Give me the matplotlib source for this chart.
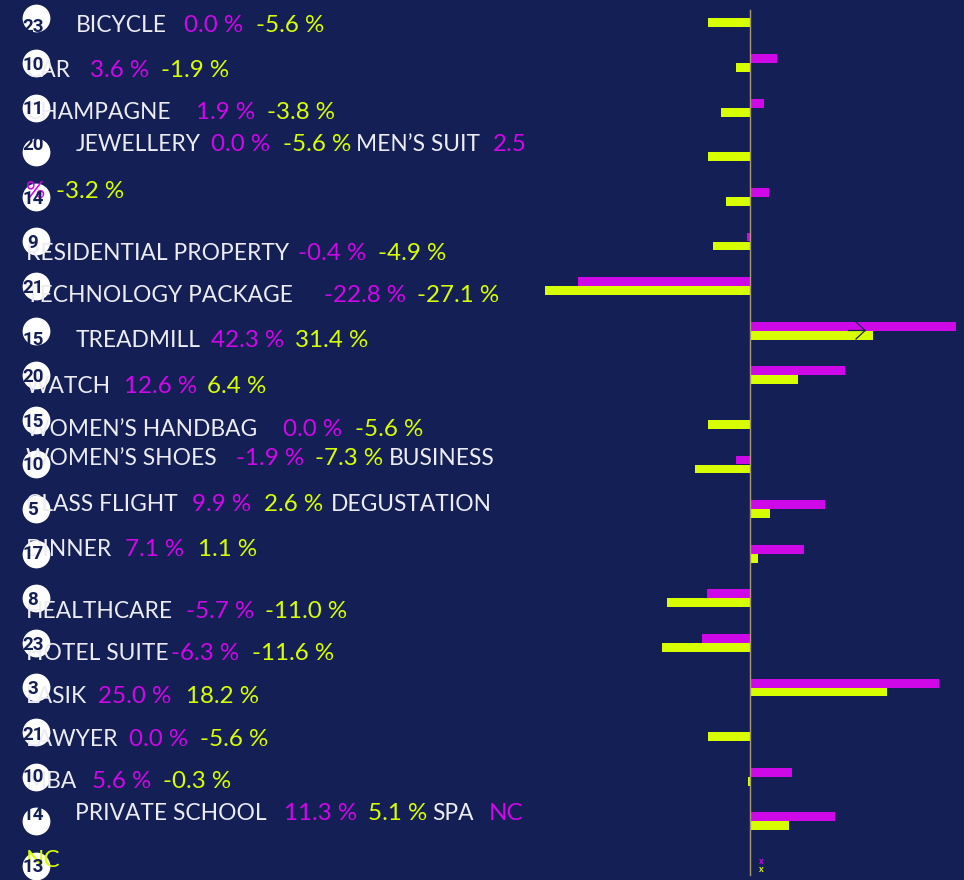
import matplotlib
matplotlib.use("Agg")
import matplotlib.pyplot as plt
import numpy as np

BG = "#141F55"
PURPLE = "#CF08E8"
YELLOW = "#D8FF00"
WHITE = "#ECECF2"
AXIS = "#A89C6A"
FONT = ["Lato", "DejaVu Sans"]

categories = ["BICYCLE", "CAR", "CHAMPAGNE", "JEWELLERY", "MEN'S SUIT", "RESIDENTIAL PROPERTY",
              "TECHNOLOGY PACKAGE", "TREADMILL", "WATCH", "WOMEN'S HANDBAG", "WOMEN'S SHOES",
              "BUSINESS CLASS FLIGHT", "DEGUSTATION DINNER", "HEALTHCARE", "HOTEL SUITE", "LASIK",
              "LAWYER", "MBA", "PRIVATE SCHOOL", "SPA"]
# Bar lengths as drawn; the treadmill bars are cut short in the picture (labels say 42.3 and 31.4)
purple_values = [0.0, 3.6, 1.9, 0.0, 2.5, -0.4, -22.8, 27.3, 12.6, 0.0, -1.9, 9.9, 7.1, -5.7, -6.3,
                 25.0, 0.0, 5.6, 11.3, 0.0]
yellow_values = [-5.6, -1.9, -3.8, -5.6, -3.2, -4.9, -27.1, 16.3, 6.4, -5.6, -7.3, 2.6, 1.1, -11.0,
                 -11.6, 18.2, -5.6, -0.3, 5.1, 0.0]
badges = [23, 10, 11, 20, 14, 9, 21, 15, 20, 15, 10, 5, 17, 8, 23, 3, 21, 10, 14, 13]
badge_y = [27, 65, 109, 145, 199, 243, 288, 340, 377, 422, 465, 510, 554, 600, 645, 689, 735, 777, 815, 867]

W, H = 964, 880
ZERO_PX, PX_PER_UNIT = 750.0, 7.55
ROW0_PX, ROW_PX = 18.5, 44.6
X_SCALE = 1.033

# Wrapped label lines: baseline y, then (x, text, colour)
text_lines = [
    (32, [(73, "BICYCLE", WHITE), (178, "0.0 %", PURPLE), (248, "-5.6 %", YELLOW)]),
    (77, [(25, "CAR", WHITE), (87, "3.6 %", PURPLE), (156, "-1.9 %", YELLOW)]),
    (119, [(25, "CHAMPAGNE", WHITE), (190, "1.9 %", PURPLE), (258, "-3.8 %", YELLOW)]),
    (151, [(73, "JEWELLERY", WHITE), (204, "0.0 %", PURPLE), (274, "-5.6 %", YELLOW),
           (345, "MEN\u2019S SUIT", WHITE), (477, "2.5", PURPLE)]),
    (198, [(25, "%", PURPLE), (54, "-3.2 %", YELLOW)]),
    (260, [(25, "RESIDENTIAL PROPERTY", WHITE), (288, "-0.4 %", PURPLE), (366, "-4.9 %", YELLOW)]),
    (302, [(25, "TECHNOLOGY PACKAGE", WHITE), (314, "-22.8 %", PURPLE), (404, "-27.1 %", YELLOW)]),
    (347, [(73, "TREADMILL", WHITE), (204, "42.3 %", PURPLE), (286, "31.4 %", YELLOW)]),
    (393, [(25, "WATCH", WHITE), (120, "12.6 %", PURPLE), (200, "6.4 %", YELLOW)]),
    (436, [(25, "WOMEN\u2019S HANDBAG", WHITE), (274, "0.0 %", PURPLE), (344, "-5.6 %", YELLOW)]),
    (465, [(25, "WOMEN\u2019S SHOES", WHITE), (228, "-1.9 %", PURPLE), (305, "-7.3 %", YELLOW),
           (376, "BUSINESS", WHITE)]),
    (511, [(25, "CLASS FLIGHT", WHITE), (186, "9.9 %", PURPLE), (256, "2.6 %", YELLOW),
           (320, "DEGUSTATION", WHITE)]),
    (556, [(25, "DINNER", WHITE), (121, "7.1 %", PURPLE), (192, "1.1 %", YELLOW)]),
    (618, [(25, "HEALTHCARE", WHITE), (180, "-5.7 %", PURPLE), (257, "-11.0 %", YELLOW)]),
    (660, [(25, "HOTEL SUITE", WHITE), (166, "-6.3 %", PURPLE), (244, "-11.6 %", YELLOW)]),
    (703, [(25, "LASIK", WHITE), (95, "25.0 %", PURPLE), (180, "18.2 %", YELLOW)]),
    (746, [(25, "LAWYER", WHITE), (125, "0.0 %", PURPLE), (194, "-5.6 %", YELLOW)]),
    (788, [(25, "MBA", WHITE), (89, "5.6 %", PURPLE), (158, "-0.3 %", YELLOW)]),
    (820, [(73, "PRIVATE SCHOOL", WHITE), (275, "11.3 %", PURPLE), (356, "5.1 %", YELLOW),
           (418, "SPA", WHITE), (473, "NC", PURPLE)]),
    (867, [(25, "NC", YELLOW)]),
]

fig = plt.figure(figsize=(W / 100, H / 100), dpi=100, facecolor=BG)
ax = fig.add_axes([0, 0, 1, 1], facecolor=BG)
ax.set_xlim(-ZERO_PX / PX_PER_UNIT, (W - ZERO_PX) / PX_PER_UNIT)
ax.set_ylim((H - ROW0_PX) / ROW_PX, -ROW0_PX / ROW_PX)
ax.axis("off")

rows = np.arange(len(categories))
ax.barh(rows - 0.1, purple_values, height=0.2, color=PURPLE, linewidth=0, zorder=2)
ax.barh(rows + 0.1, yellow_values, height=0.2, color=YELLOW, linewidth=0, zorder=2)
ax.axvline(0, ymin=1 - 875 / H, ymax=1 - 10 / H, color=AXIS, lw=1.0, zorder=3)

ov = fig.add_axes([0, 0, 1, 1], facecolor="none")
ov.set_xlim(0, W)
ov.set_ylim(H, 0)
ov.axis("off")

# treadmill cut-off arrow
ov.plot([848, 865], [330.5, 330.5], color=BG, lw=0.9, zorder=4)
ov.plot([856, 865, 856], [322, 330.5, 339], color=BG, lw=0.9, zorder=4)

# SPA has no value: small x marks
ov.text(761, 861, "x", color=PURPLE, fontsize=6.5, fontweight="bold", ha="center", va="center",
        family=FONT, zorder=4)
ov.text(761, 870, "x", color=YELLOW, fontsize=6.5, fontweight="bold", ha="center", va="center",
        family=FONT, zorder=4)

ov.scatter([35.7] * len(badges), ROW0_PX + rows * ROW_PX, s=400, color="white", linewidths=0, zorder=5)

for base, segs in text_lines:
    for x, s, c in segs:
        size = 16.4 if c == WHITE else 17.4
        ov.text(x * X_SCALE, base, s, color=c, fontsize=size, fontweight="normal", family=FONT,
                ha="left", va="baseline", zorder=6)

for b, y in zip(badges, badge_y):
    ov.text(33, y, str(b), color=BG, fontsize=13.5, fontweight="bold", family=["Roboto", "DejaVu Sans"],
            ha="center", va="center", zorder=7)

fig.savefig("out.png", dpi=100, facecolor=BG)
